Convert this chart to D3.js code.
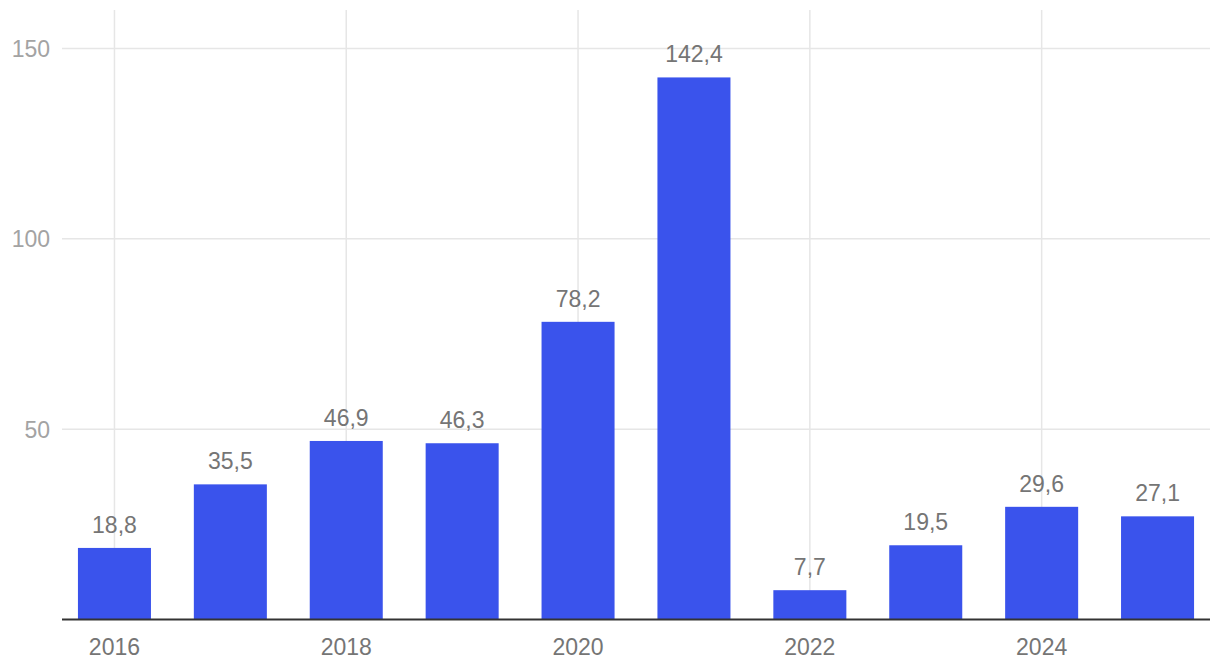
<!DOCTYPE html>
<html>
<head>
<meta charset="utf-8">
<script src="https://cdn.jsdelivr.net/npm/d3@7"></script>
<style>
html,body{margin:0;padding:0;background:#fff;}
svg{display:block;font-family:"Liberation Sans",Arial,Helvetica,sans-serif;}
</style>
</head>
<body>
<svg id="chart" width="1220" height="672"></svg>
<script>
const years = [2016, 2017, 2018, 2019, 2020, 2021, 2022, 2023, 2024, 2025];
const values = [18.8, 35.5, 46.9, 46.3, 78.2, 142.4, 7.7, 19.5, 29.6, 27.1];
const yTicks = [50, 100, 150];
const xTickYears = [2016, 2018, 2020, 2022, 2024];

const svg = d3.select("#chart");
const plotLeft = 62, plotRight = 1210, plotTop = 10, baseY = 619.5;

const x = d3.scaleBand().domain(years).range([56.5, 1215.5]).paddingInner(0.37).paddingOuter(0.185);
const y = d3.scaleLinear().domain([0, 150]).range([baseY, 48.5]);

// horizontal gridlines
svg.append("g").selectAll("line").data(yTicks).join("line")
  .attr("x1", plotLeft).attr("x2", plotRight)
  .attr("y1", d => y(d)).attr("y2", d => y(d))
  .attr("stroke", "#e6e6e6").attr("stroke-width", 1.5);

// vertical gridlines
svg.append("g").selectAll("line").data(xTickYears).join("line")
  .attr("x1", d => x(d) + x.bandwidth() / 2).attr("x2", d => x(d) + x.bandwidth() / 2)
  .attr("y1", plotTop).attr("y2", baseY)
  .attr("stroke", "#e6e6e6").attr("stroke-width", 1.5);

// y labels
svg.append("g").selectAll("text").data(yTicks).join("text")
  .attr("x", 50).attr("y", d => y(d) + 8.5)
  .attr("text-anchor", "end")
  .attr("fill", "#a3a3a3").attr("font-size", 23)
  .text(d => d);

// bars
svg.append("g").selectAll("rect").data(years).join("rect")
  .attr("x", d => x(d)).attr("width", x.bandwidth())
  .attr("y", (d, i) => y(values[i])).attr("height", (d, i) => baseY - y(values[i]))
  .attr("fill", "#3a53ec");

// baseline
svg.append("line").attr("x1", plotLeft).attr("x2", plotRight)
  .attr("y1", baseY).attr("y2", baseY)
  .attr("stroke", "#333").attr("stroke-width", 2);

// value labels
const fmt = v => d3.format(".1f")(v).replace(".", ",");
svg.append("g").selectAll("text").data(years).join("text")
  .attr("x", d => x(d) + x.bandwidth() / 2)
  .attr("y", (d, i) => y(values[i]) - 15)
  .attr("text-anchor", "middle")
  .attr("fill", "#757575").attr("font-size", 23)
  .text((d, i) => fmt(values[i]));

// x labels
svg.append("g").selectAll("text").data(xTickYears).join("text")
  .attr("x", d => x(d) + x.bandwidth() / 2)
  .attr("y", 655)
  .attr("text-anchor", "middle")
  .attr("fill", "#757575").attr("font-size", 23)
  .text(d => d);
</script>
</body>
</html>
